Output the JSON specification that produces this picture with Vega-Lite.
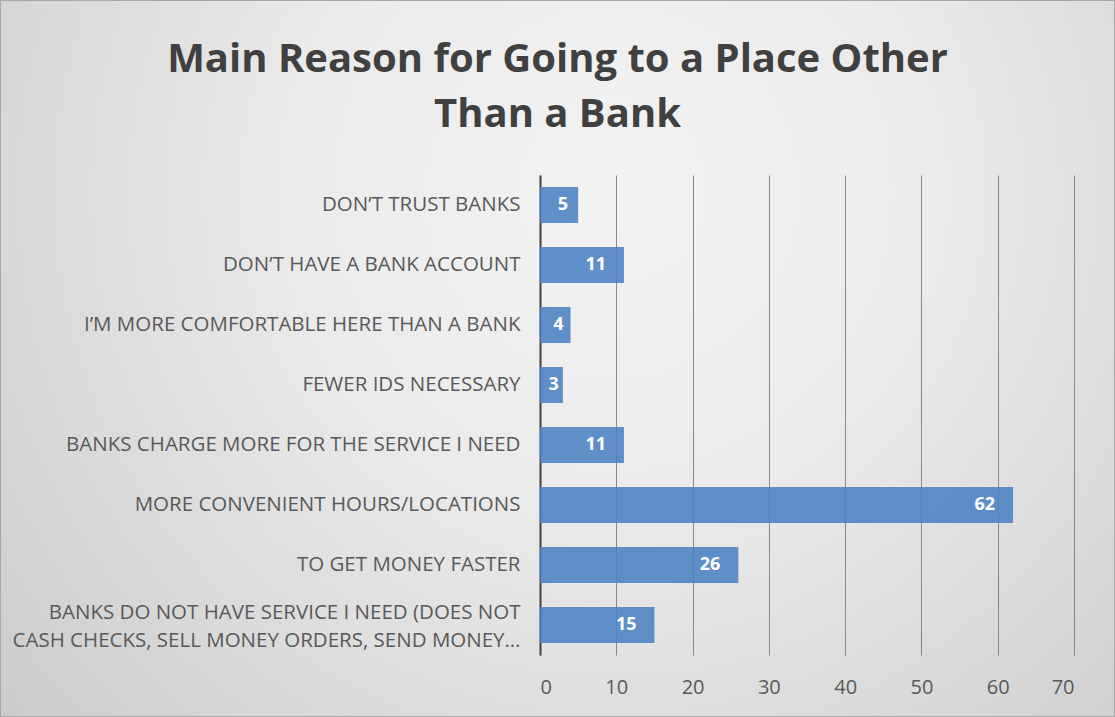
{
  "$schema": "https://vega.github.io/schema/vega-lite/v6.json",
  "width": 1115,
  "height": 717,
  "autosize": {"type": "none"},
  "padding": 0,
  "background": "#d8d8d8",
  "config": {
    "font": "Open Sans",
    "view": {
      "stroke": "#a8a8a8",
      "strokeWidth": 2,
      "fill": {
        "gradient": "radial",
        "x1": 0.55, "y1": 0.35, "r1": 0,
        "x2": 0.55, "y2": 0.35, "r2": 0.8,
        "stops": [
          {"offset": 0, "color": "#f3f3f3"},
          {"offset": 0.35, "color": "#ebebeb"},
          {"offset": 1, "color": "#c6c6c6"}
        ]
      }
    }
  },
  "title": {
    "text": ["Main Reason for Going to a Place Other", "Than a Bank"],
    "fontSize": 40,
    "fontWeight": "bold",
    "color": "#404040",
    "font": "Open Sans",
    "anchor": "middle",
    "frame": "group",
    "lineHeight": 55,
    "offset": -135
  },
  "data": {
    "values": [
      {"reason": "DON’T TRUST BANKS", "count": 5},
      {"reason": "DON’T HAVE A BANK ACCOUNT", "count": 11},
      {"reason": "I’M MORE COMFORTABLE HERE THAN A BANK", "count": 4},
      {"reason": "FEWER IDS NECESSARY", "count": 3},
      {"reason": "BANKS CHARGE MORE FOR THE SERVICE I NEED", "count": 11},
      {"reason": "MORE CONVENIENT HOURS/LOCATIONS", "count": 62},
      {"reason": "TO GET MONEY FASTER", "count": 26},
      {"reason": "BANKS DO NOT HAVE SERVICE I NEED (DOES NOT|CASH CHECKS, SELL MONEY ORDERS, SEND MONEY…", "count": 15}
    ]
  },
  "transform": [
    {"calculate": "max(datum.count - 3.7, datum.count * 0.6)", "as": "labelPos"}
  ],
  "encoding": {
    "y": {
      "field": "reason",
      "type": "nominal",
      "sort": null,
      "scale": {"range": [175, 655], "paddingInner": 0.4, "paddingOuter": 0.2},
      "axis": {
        "title": null,
        "offset": -540,
        "ticks": false,
        "domainColor": "#404040",
        "domainWidth": 2,
        "labelPadding": 20,
        "labelFont": "Open Sans",
        "labelFontSize": 20.5,
        "labelColor": "#595959",
        "labelLimit": 600,
        "labelLineHeight": 28,
        "labelOffset": {"condition": {"test": "indexof(datum.value, '|') >= 0", "value": -12}, "value": 0},
        "labelExpr": "split(datum.value, '|')"
      }
    }
  },
  "layer": [
    {
      "mark": {"type": "bar", "color": "#4a7fc2", "opacity": 0.87},
      "encoding": {
        "x": {
          "field": "count",
          "type": "quantitative",
          "scale": {"domain": [0, 70], "nice": false, "range": [540, 1074]},
          "axis": {
            "title": null,
            "offset": -62,
            "values": [0, 10, 20, 30, 40, 50, 60, 70],
            "grid": false,
            "domain": false,
            "ticks": true,
            "tickSize": -480,
            "tickColor": "#888888",
            "tickWidth": 1,
            "labelPadding": 502,
            "labelFont": "Open Sans",
            "labelFontSize": 20,
            "labelColor": "#595959"
          }
        }
      }
    },
    {
      "mark": {"type": "text", "color": "white", "fontWeight": "bold", "fontSize": 18, "font": "Open Sans", "align": "center", "baseline": "middle"},
      "encoding": {
        "x": {"field": "labelPos", "type": "quantitative"},
        "text": {"field": "count", "type": "quantitative"}
      }
    }
  ]
}
